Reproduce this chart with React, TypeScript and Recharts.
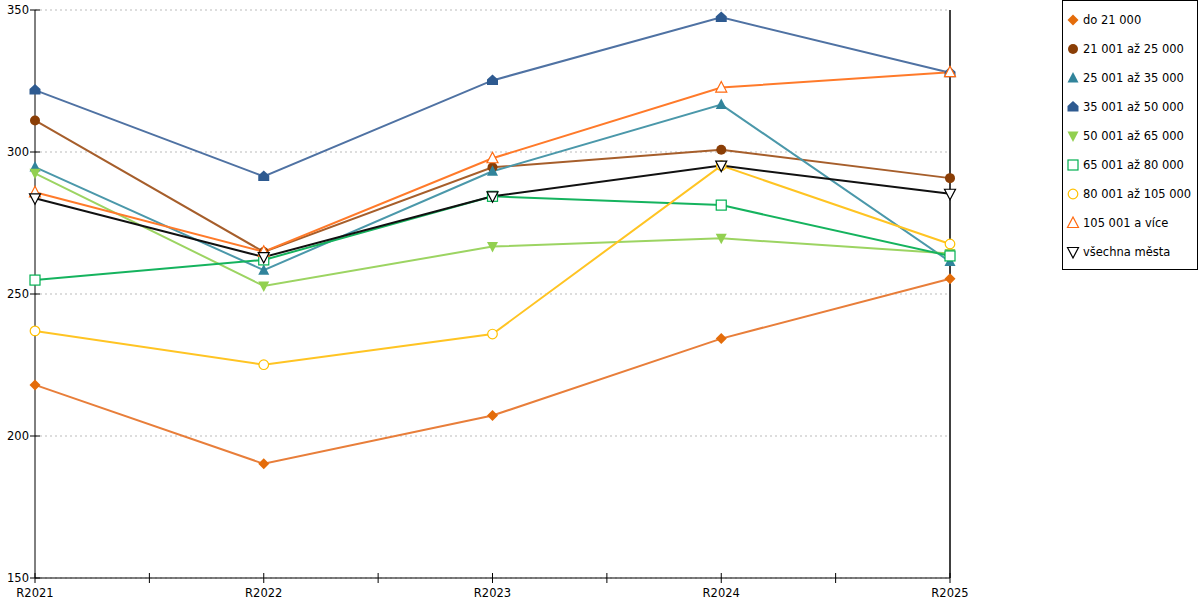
import React from 'react'
import { LineChart, Line, XAxis, YAxis, CartesianGrid, ReferenceLine } from 'recharts'

const categories = ['R2021', 'R2022', 'R2023', 'R2024', 'R2025']
const xTicks = [0, 0.5, 1, 1.5, 2, 2.5, 3, 3.5, 4]
const yTicks = [150, 200, 250, 300, 350]

const do21 = [218, 190.2, 207.2, 234.3, 255.4]
const s21to25 = [311.1, 264.8, 294.6, 300.8, 290.8]
const s25to35 = [294.7, 258.4, 293.2, 316.7, 261.4]
const s35to50 = [321.8, 291.4, 325.2, 347.4, 327.9]
const s50to65 = [292.5, 252.8, 266.7, 269.6, 264.3]
const s65to80 = [254.9, 262, 284.4, 281.3, 263.4]
const s80to105 = [237, 225.1, 235.9, 295.2, 267.6]
const s105plus = [285.8, 264.9, 297.8, 322.7, 328.1]
const allCities = [283.7, 263, 284.4, 295.2, 285.3]

type Shape = 'diamond' | 'circle' | 'triangle' | 'house' | 'down' | 'square' | 'ring' | 'tri-open' | 'down-open'

interface SeriesDef {
  key: string
  name: string
  values: number[]
  line: string
  marker: string
  shape: Shape
}

const series: SeriesDef[] = [
  { key: 'a', name: 'do 21 000', values: do21, line: '#E87E3A', marker: '#E46C0A', shape: 'diamond' },
  { key: 'b', name: '21 001 až 25 000', values: s21to25, line: '#A65E2B', marker: '#8A3E06', shape: 'circle' },
  { key: 'c', name: '25 001 až 35 000', values: s25to35, line: '#4B98AA', marker: '#31849B', shape: 'triangle' },
  { key: 'd', name: '35 001 až 50 000', values: s35to50, line: '#4F72A3', marker: '#2E5A90', shape: 'house' },
  { key: 'e', name: '50 001 až 65 000', values: s50to65, line: '#9CD462', marker: '#92D050', shape: 'down' },
  { key: 'f', name: '65 001 až 80 000', values: s65to80, line: '#15B35E', marker: '#00B050', shape: 'square' },
  { key: 'g', name: '80 001 až 105 000', values: s80to105, line: '#FFC423', marker: '#FFC000', shape: 'ring' },
  { key: 'h', name: '105 001 a více', values: s105plus, line: '#FF7A2A', marker: '#FF6A10', shape: 'tri-open' },
  { key: 'i', name: 'všechna města', values: allCities, line: '#111111', marker: '#000000', shape: 'down-open' },
]

const data = categories.map((c, i) => {
  const row: Record<string, number | string> = { x: i, label: c }
  series.forEach((s) => {
    row[s.key] = s.values[i]
  })
  return row
})

const font = '"DejaVu Sans", Verdana, sans-serif'

function MarkerShape({ cx, cy, shape, color }: { cx: number; cy: number; shape: Shape; color: string }) {
  switch (shape) {
    case 'diamond':
      return <polygon points={`${cx},${cy - 5.5} ${cx + 5.5},${cy} ${cx},${cy + 5.5} ${cx - 5.5},${cy}`} fill={color} />
    case 'circle':
      return <circle cx={cx} cy={cy} r={5} fill={color} />
    case 'triangle':
      return <polygon points={`${cx},${cy - 6} ${cx + 5.5},${cy + 4.5} ${cx - 5.5},${cy + 4.5}`} fill={color} />
    case 'house':
      return (
        <polygon
          points={`${cx},${cy - 6} ${cx + 5.5},${cy - 1} ${cx + 5.5},${cy + 4.5} ${cx - 5.5},${cy + 4.5} ${cx - 5.5},${cy - 1}`}
          fill={color}
        />
      )
    case 'down':
      return <polygon points={`${cx - 5.5},${cy - 4.5} ${cx + 5.5},${cy - 4.5} ${cx},${cy + 6}`} fill={color} />
    case 'square':
      return <rect x={cx - 5} y={cy - 5} width={10} height={10} fill="#fff" stroke={color} strokeWidth={1.2} />
    case 'ring':
      return <circle cx={cx} cy={cy} r={4.8} fill="#fff" stroke={color} strokeWidth={1.2} />
    case 'tri-open':
      return (
        <polygon
          points={`${cx},${cy - 6} ${cx + 5.5},${cy + 4.5} ${cx - 5.5},${cy + 4.5}`}
          fill="#fff"
          stroke={color}
          strokeWidth={1.2}
        />
      )
    case 'down-open':
      return (
        <polygon
          points={`${cx - 5.5},${cy - 4.5} ${cx + 5.5},${cy - 4.5} ${cx},${cy + 6}`}
          fill="#fff"
          stroke={color}
          strokeWidth={1.2}
        />
      )
  }
  return null
}

function XTick(props: any) {
  const { x, y, payload } = props
  const v = payload.value as number
  return (
    <g>
      <line x1={x} y1={y - 5} x2={x} y2={y + 5} stroke="#000" strokeWidth={1} />
      {Number.isInteger(v) && (
        <text x={x} y={y + 19} textAnchor="middle" fontSize={11.5} fontFamily={font} fill="#000">
          {categories[v]}
        </text>
      )}
    </g>
  )
}

function YTick(props: any) {
  const { x, y, payload } = props
  return (
    <g>
      <line x1={x - 5} y1={y} x2={x + 5} y2={y} stroke="#000" strokeWidth={1} />
      <text x={x - 6} y={y + 4} textAnchor="end" fontSize={11.5} fontFamily={font} fill="#000">
        {payload.value}
      </text>
    </g>
  )
}

function LegendBox() {
  return (
    <div
      style={{
        position: 'absolute',
        left: 1062,
        top: 0,
        border: '1px solid #000',
        width: 136,
        height: 270,
        background: '#fff',
        boxSizing: 'border-box',
        paddingTop: 4,
      }}
    >
      {series.map((s) => (
        <div key={s.key} style={{ display: 'flex', alignItems: 'center', height: 29 }}>
          <svg width={19} height={16} style={{ marginLeft: 1 }}>
            <MarkerShape cx={9} cy={8} shape={s.shape} color={s.marker} />
          </svg>
          <span style={{ fontSize: 11.5, fontFamily: font, color: '#000', whiteSpace: 'nowrap' }}>{s.name}</span>
        </div>
      ))}
    </div>
  )
}

export default function App() {
  return (
    <div style={{ position: 'absolute', left: 0, top: 0, width: 1200, height: 600, background: '#fff' }}>
      <LineChart width={1200} height={600} data={data} margin={{ top: 10, right: 250, bottom: 0, left: 0 }}>
        <CartesianGrid vertical={false} stroke="#bbbbbb" strokeDasharray="2 3" />
        <XAxis
          dataKey="x"
          type="number"
          domain={[0, 4]}
          ticks={xTicks}
          height={22}
          tickSize={0}
          tickMargin={0}
          tickLine={false}
          tick={<XTick />}
          axisLine={{ stroke: '#000' }}
          interval={0}
        />
        <YAxis
          domain={[150, 350]}
          ticks={yTicks}
          width={35}
          tickSize={0}
          tickMargin={0}
          tickLine={false}
          tick={<YTick />}
          axisLine={{ stroke: '#000' }}
          interval={0}
        />
        <ReferenceLine x={4} stroke="#000" strokeWidth={1.5} />
        {series.map((s) => (
          <Line
            key={s.key}
            dataKey={s.key}
            name={s.name}
            type="linear"
            stroke={s.line}
            strokeWidth={2}
            isAnimationActive={false}
            dot={(p: any) => (
              <MarkerShape key={`${s.key}-${p.index}`} cx={p.cx} cy={p.cy} shape={s.shape} color={s.marker} />
            )}
            activeDot={false}
          />
        ))}
      </LineChart>
      <LegendBox />
    </div>
  )
}
